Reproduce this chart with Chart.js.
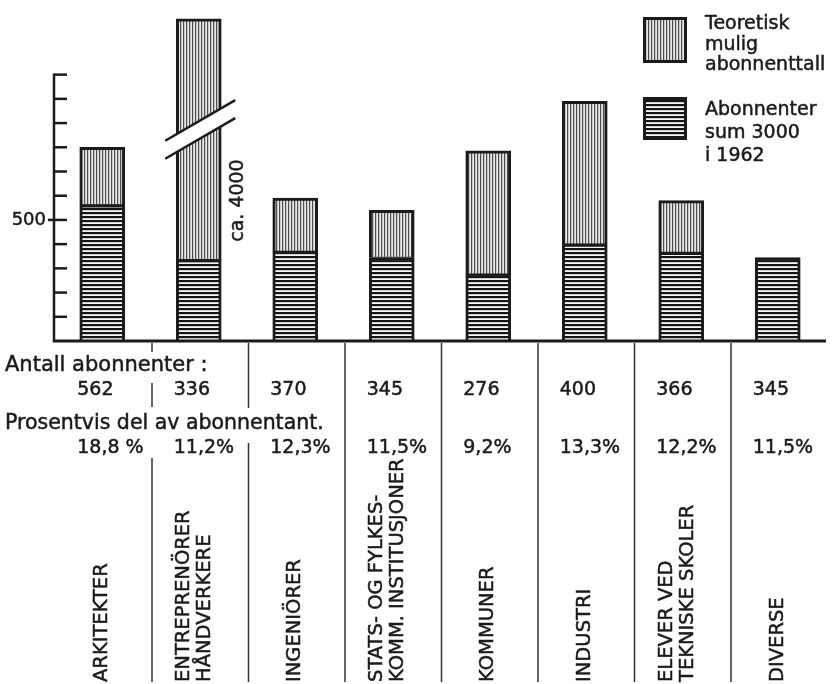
<!DOCTYPE html>
<html>
<head>
<meta charset="utf-8">
<script src="https://cdn.jsdelivr.net/npm/chart.js@4.4.0/dist/chart.umd.min.js"></script>
<style>
  html, body { margin: 0; padding: 0; background: #fff; }
  #wrap { width: 834px; height: 684px; }
</style>
</head>
<body>
<div id="wrap"><canvas id="chart" width="834" height="684"></canvas></div>
<script>
/* Abonnenter 1962 – stablede søyler, teoretisk mulig vs. faktisk */
(function () {
  'use strict';

  var CATEGORIES = [
    ['ARKITEKTER'],
    ['ENTREPRENÖRER', 'HÅNDVERKERE'],
    ['INGENIÖRER'],
    ['STATS- OG FYLKES-', 'KOMM. INSTITUSJONER'],
    ['KOMMUNER'],
    ['INDUSTRI'],
    ['ELEVER VED', 'TEKNISKE SKOLER'],
    ['DIVERSE']
  ];
  var SUBSCRIBERS = [562, 336, 370, 345, 276, 400, 366, 345];
  var THEORETICAL = [800, 4000, 590, 540, 785, 990, 580, 345];
  var PERCENT_LABELS = ['18,8 %', '11,2%', '12,3%', '11,5%', '9,2%', '13,3%', '12,2%', '11,5%'];
  var Y_TICKS = [0, 100, 200, 300, 400, 500, 600, 700, 800, 900, 1000, 1100];
  var Y_LABELLED = [500];

  var Y_MAX = 1400;          // top of drawing area
  var BROKEN_SHOWN = 1330;   // drawn height of the ca. 4000 bar
  var BREAK_AT = 870;
  var BROKEN_LABEL = 'ca. 4000';

  var LEGEND_THEORETICAL = ['Teoretisk', 'mulig', 'abonnenttall'];
  var LEGEND_SUBSCRIBERS = ['Abonnenter', 'sum 3000', 'i 1962'];
  var ROW1_TITLE = 'Antall abonnenter :';
  var ROW2_TITLE = 'Prosentvis del av abonnentant.';

  var INK = '#1b1b1b';
  var FONT = '"DejaVu Sans", sans-serif';

  var canvas = document.getElementById('chart');

  function makePattern(w, h, paint) {
    var c = document.createElement('canvas');
    c.width = w; c.height = h;
    paint(c.getContext('2d'));
    return canvas.getContext('2d').createPattern(c, 'repeat');
  }

  var VERTICAL = makePattern(3, 1, function (g) {
    g.fillStyle = '#e8e8e8'; g.fillRect(0, 0, 3, 1);
    g.fillStyle = '#4e4e4e'; g.fillRect(0, 0, 1, 1);
    g.fillStyle = '#c6c6c6'; g.fillRect(1, 0, 1, 1);
  });
  var HORIZONTAL = makePattern(1, 4, function (g) {
    g.fillStyle = '#f4f4f4'; g.fillRect(0, 0, 1, 4);
    g.fillStyle = '#151515'; g.fillRect(0, 0, 1, 2);
    g.fillStyle = '#cfcfcf'; g.fillRect(0, 2, 1, 1);
  });

  var brokenIndex = THEORETICAL.findIndex(function (v) { return v > Y_MAX; });
  var upper = THEORETICAL.map(function (v, i) {
    var top = v > Y_MAX ? BROKEN_SHOWN : v;
    var d = top - SUBSCRIBERS[i];
    return d > 0 ? d : null;
  });

  function line(ctx, x1, y1, x2, y2) {
    ctx.beginPath(); ctx.moveTo(x1, y1); ctx.lineTo(x2, y2); ctx.stroke();
  }

  /* slightly heavier than plain DejaVu, closer to the printed type */
  function text(ctx, t, x, y) {
    ctx.fillText(t, x, y);
    ctx.strokeText(t, x, y);
  }

  function rotatedLines(ctx, lines, x, y, lh, align) {
    ctx.save();
    ctx.translate(x, y);
    ctx.rotate(-Math.PI / 2);
    ctx.textAlign = align;
    ctx.textBaseline = 'middle';
    lines.forEach(function (t, i) {
      text(ctx, t, 0, (i - (lines.length - 1) / 2) * lh);
    });
    ctx.restore();
  }

  var diagram = {
    id: 'diagram',
    afterDatasetsDraw: function (chart) {
      var ctx = chart.ctx, xs = chart.scales.x, ys = chart.scales.y, area = chart.chartArea;
      var x0 = area.left, yBase = ys.getPixelForValue(0);

      ctx.save();
      ctx.strokeStyle = INK;
      ctx.fillStyle = INK;

      /* break across the tall bar */
      if (brokenIndex >= 0) {
        var el = chart.getDatasetMeta(1).data[brokenIndex];
        var cx = el.x, half = el.width / 2, yc = ys.getPixelForValue(BREAK_AT);
        var slope = -0.58, gap = 9;
        var xa = cx - half - 11, xb = cx + half + 14;
        var ly = function (x, off) { return yc + off + (x - cx) * slope; };
        ctx.fillStyle = '#fff';
        ctx.beginPath();
        ctx.moveTo(xa, ly(xa, -gap)); ctx.lineTo(xb, ly(xb, -gap));
        ctx.lineTo(xb, ly(xb, gap)); ctx.lineTo(xa, ly(xa, gap));
        ctx.closePath(); ctx.fill();
        ctx.lineWidth = 2.5;
        line(ctx, xa, ly(xa, -gap), xb, ly(xb, -gap));
        line(ctx, xa, ly(xa, gap), xb, ly(xb, gap));
        ctx.fillStyle = INK;
        ctx.lineWidth = 0.5;
        ctx.font = '19px ' + FONT;
        rotatedLines(ctx, [BROKEN_LABEL], cx + half + 17, ys.getPixelForValue(580), 0, 'center');
      }

      /* y axis with inward ticks */
      ctx.lineWidth = 2.5;
      line(ctx, x0, ys.getPixelForValue(Y_TICKS[Y_TICKS.length - 1]) - 1.2, x0, yBase);
      Y_TICKS.forEach(function (v) {
        if (v === 0) return;
        var py = ys.getPixelForValue(v);
        var left = Y_LABELLED.indexOf(v) >= 0 ? x0 - 6 : x0;
        line(ctx, left, py, x0 + 13, py);
      });
      ctx.lineWidth = 0.5;
      ctx.font = '18px ' + FONT;
      ctx.textAlign = 'right';
      ctx.textBaseline = 'middle';
      Y_LABELLED.forEach(function (v) { text(ctx, String(v), x0 - 8, ys.getPixelForValue(v)); });

      /* base line */
      ctx.lineWidth = 3;
      line(ctx, x0 - 1.2, yBase, area.right, yBase);

      /* column separators below the base line */
      var n = CATEGORIES.length;
      ctx.lineWidth = 1.5;
      ctx.strokeStyle = '#333';
      for (var k = 1; k < n; k++) {
        var sx = (xs.getPixelForValue(k - 1) + xs.getPixelForValue(k)) / 2 + 1.5;
        var segs = [[343, 682]];
        if (k === 1) segs = [[343, 352], [383, 407], [458, 682]];
        if (k === 2) segs = [[343, 408], [443, 682]];
        segs.forEach(function (s) { line(ctx, sx, s[0], sx, s[1]); });
      }

      /* table rows */
      ctx.strokeStyle = INK;
      ctx.lineWidth = 0.5;
      ctx.fillStyle = INK;
      ctx.textAlign = 'left';
      ctx.textBaseline = 'alphabetic';
      ctx.font = '21px ' + FONT;
      text(ctx, ROW1_TITLE, 5, 371);
      ctx.font = '20.5px ' + FONT;
      text(ctx, ROW2_TITLE, 5, 429);
      for (var i = 0; i < n; i++) {
        var c = xs.getPixelForValue(i);
        ctx.font = '19px ' + FONT;
        text(ctx, String(SUBSCRIBERS[i]), c - 25, 395);
        ctx.font = '19px ' + FONT;
        text(ctx, PERCENT_LABELS[i], c - 25, 453);
      }

      /* category names, reading upwards */
      ctx.font = '19.5px ' + FONT;
      CATEGORIES.forEach(function (lines, i) {
        var dx = lines.length > 1 ? -4 : 0;
        rotatedLines(ctx, lines, xs.getPixelForValue(i) + dx, 682, 21, 'left');
      });

      /* legend */
      var boxes = [
        { y: 17, h: 46, fill: VERTICAL, lines: LEGEND_THEORETICAL, base: 29, lh: 20.5 },
        { y: 97, h: 43, fill: HORIZONTAL, lines: LEGEND_SUBSCRIBERS, base: 115, lh: 23 }
      ];
      boxes.forEach(function (b) {
        ctx.fillStyle = b.fill;
        ctx.fillRect(643, b.y, 44, b.h);
        ctx.strokeStyle = INK;
        ctx.lineWidth = 3;
        ctx.strokeRect(644.5, b.y + 1.5, 41, b.h - 3);
        ctx.fillStyle = INK;
        ctx.lineWidth = 0.5;
        ctx.font = '19px ' + FONT;
        b.lines.forEach(function (t, j) { text(ctx, t, 705, b.base + j * b.lh); });
      });

      ctx.restore();
    }
  };

  new Chart(canvas, {
    type: 'bar',
    data: {
      labels: CATEGORIES,
      datasets: [
        {
          label: LEGEND_SUBSCRIBERS.join(' '),
          data: SUBSCRIBERS,
          backgroundColor: HORIZONTAL,
          borderColor: INK,
          borderWidth: { top: 3, left: 3, right: 3, bottom: 0 },
          borderSkipped: false,
          barThickness: 45
        },
        {
          label: LEGEND_THEORETICAL.join(' '),
          data: upper,
          backgroundColor: VERTICAL,
          borderColor: INK,
          borderWidth: { top: 3, left: 3, right: 3, bottom: 1 },
          borderSkipped: false,
          barThickness: 45
        }
      ]
    },
    options: {
      responsive: false,
      animation: false,
      layout: { padding: { left: 54, right: 8, top: 2, bottom: 343 } },
      scales: {
        x: { display: false, stacked: true },
        y: { display: false, stacked: true, min: 0, max: Y_MAX }
      },
      plugins: { legend: { display: false }, tooltip: { enabled: false } }
    },
    plugins: [diagram]
  });
}());
</script>
</body>
</html>
